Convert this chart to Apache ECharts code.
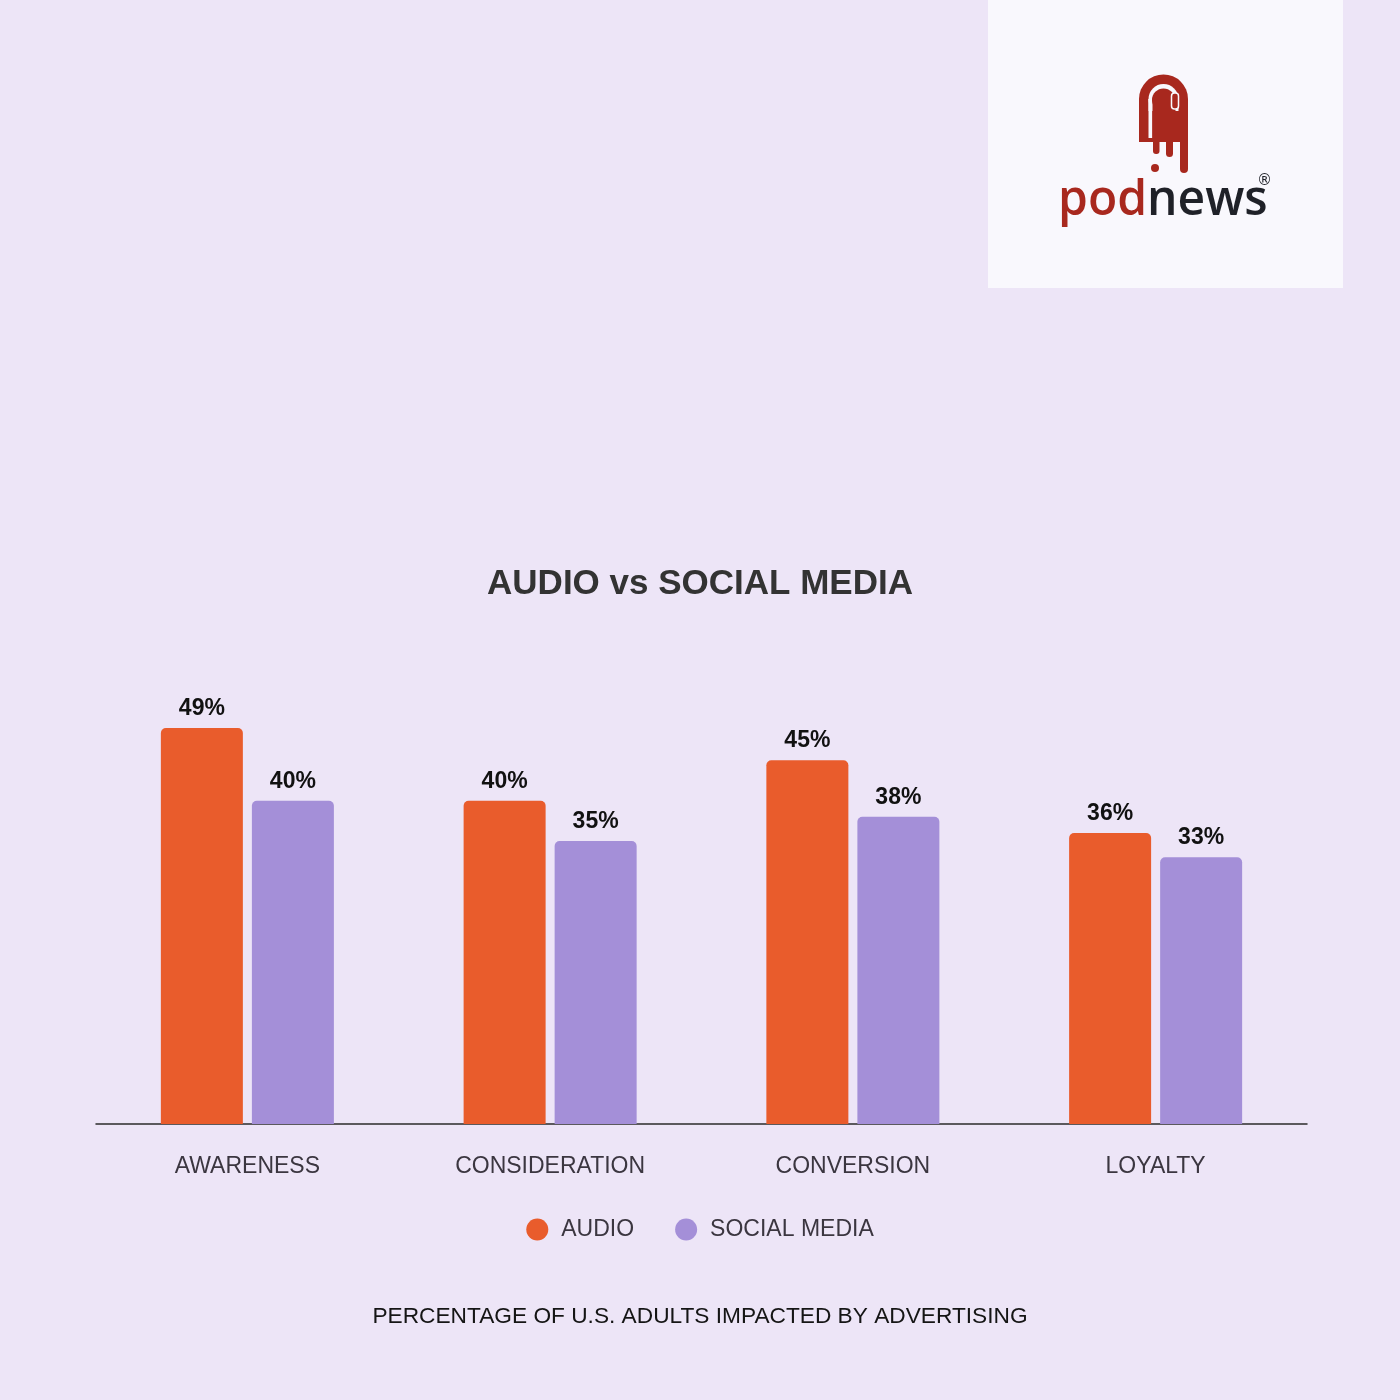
<!DOCTYPE html>
<html>
<head>
<meta charset="utf-8">
<script src="https://cdn.jsdelivr.net/npm/echarts@6/dist/echarts.min.js"></script>
<style>
html,body{margin:0;padding:0;background:#EDE5F7;}
#c{width:1400px;height:1400px;}
</style>
</head>
<body>
<div id="c"></div>
<script>
var categories = ['AWARENESS', 'CONSIDERATION', 'CONVERSION', 'LOYALTY'];
var audioValues = [49, 40, 45, 36];
var socialValues = [40, 35, 38, 33];
var seriesNames = ['AUDIO', 'SOCIAL MEDIA'];
var titleText = 'AUDIO vs SOCIAL MEDIA';
var footerText = 'PERCENTAGE OF U.S. ADULTS IMPACTED BY ADVERTISING';

var ORANGE = '#E95C2C';
var PURPLE = '#A48FD8';
var RED = '#A8281E';
var BOX = '#F9F8FD';
var FONT = '"Liberation Sans", Arial, Helvetica, sans-serif';

var chart = echarts.init(document.getElementById('c'));

var labelCfg = {
  show: true, position: 'top', distance: 8,
  formatter: '{c}%', color: '#111', fontSize: 23, fontWeight: 'bold', fontFamily: FONT
};

chart.setOption({
  backgroundColor: '#EDE5F7',
  animation: false,
  title: [
    { text: titleText, left: 'center', top: 567, padding: 0,
      textStyle: { fontFamily: FONT, fontSize: 35, fontWeight: 'bold', color: '#333' } },
    { text: footerText, left: 'center', top: 1305, padding: 0,
      textStyle: { fontFamily: FONT, fontSize: 22.7, fontWeight: 'normal', color: '#151515' } }
  ],
  legend: {
    data: seriesNames, left: 'center', top: 1218, padding: 0,
    icon: 'circle', itemWidth: 22, itemHeight: 22, itemGap: 41,
    textStyle: { fontFamily: FONT, fontSize: 23, color: '#3b3640', padding: [0, 0, 0, 8] }
  },
  grid: { left: 96, right: 93, top: 639, bottom: 276 },
  xAxis: {
    type: 'category', data: categories,
    axisLine: { lineStyle: { color: '#2b2b2b', width: 1.5 } },
    axisTick: { show: false },
    axisLabel: { margin: 31, fontFamily: FONT, fontSize: 23, color: '#3b3640' }
  },
  yAxis: { type: 'value', min: 0, max: 60, show: false, splitLine: { show: false } },
  series: [
    { name: seriesNames[0], type: 'bar', data: audioValues, barWidth: 82, barGap: '11%',
      itemStyle: { color: ORANGE, borderRadius: [5, 5, 0, 0] }, label: labelCfg },
    { name: seriesNames[1], type: 'bar', data: socialValues, barWidth: 82,
      itemStyle: { color: PURPLE, borderRadius: [5, 5, 0, 0] }, label: labelCfg }
  ],
  graphic: [
    { type: 'rect', shape: { x: 988, y: 0, width: 355, height: 288 }, style: { fill: BOX }, z: 0 },
    // icon: outer arch
    { type: 'circle', shape: { cx: 1163.5, cy: 99, r: 24.5 }, style: { fill: RED }, z: 100 },
    { type: 'rect', shape: { x: 1139, y: 99, width: 49, height: 43 }, style: { fill: RED }, z: 100 },
    // white band
    { type: 'circle', shape: { cx: 1163.5, cy: 99, r: 15 }, style: { fill: BOX }, z: 101 },
    { type: 'rect', shape: { x: 1148.5, y: 99, width: 30, height: 12 }, style: { fill: BOX }, z: 101 },
    { type: 'rect', shape: { x: 1148.5, y: 99, width: 4, height: 39 }, style: { fill: BOX }, z: 101 },
    // inner bowl
    { type: 'circle', shape: { cx: 1163.5, cy: 100, r: 11.5 }, style: { fill: RED }, z: 102 },
    { type: 'rect', shape: { x: 1152.5, y: 100, width: 23, height: 42 }, style: { fill: RED }, z: 102 },
    { type: 'rect', shape: { x: 1152.5, y: 111, width: 35.5, height: 31 }, style: { fill: RED }, z: 102 },
    { type: 'rect', shape: { x: 1171.5, y: 93, width: 7, height: 16, r: 3 }, style: { fill: RED, stroke: BOX, lineWidth: 1.5 }, z: 103 },
    // drips
    { type: 'rect', shape: { x: 1153, y: 138, width: 6.5, height: 16, r: [0, 0, 3, 3] }, style: { fill: RED }, z: 100 },
    { type: 'rect', shape: { x: 1166, y: 138, width: 7, height: 19, r: [0, 0, 3.5, 3.5] }, style: { fill: RED }, z: 100 },
    { type: 'rect', shape: { x: 1180, y: 138, width: 8, height: 35, r: [0, 0, 4, 4] }, style: { fill: RED }, z: 100 },
    { type: 'circle', shape: { cx: 1155, cy: 168, r: 4 }, style: { fill: RED }, z: 100 },
    // word mark
    { type: 'text', left: 1058, top: 177, z: 104,
      style: { text: '{a|pod}{b|news}',
        rich: {
          a: { fontFamily: '"Open Sans", sans-serif', fontSize: 48, fontWeight: 600, fill: RED },
          b: { fontFamily: '"Open Sans", sans-serif', fontSize: 48, fontWeight: 600, fill: '#1f2128' }
        } } },
    { type: 'text', left: 1257, top: 174, z: 104,
      style: { text: '®', fontFamily: '"DejaVu Sans", sans-serif', fontSize: 15, fill: '#1f2128' } }
  ]
});
</script>
</body>
</html>
